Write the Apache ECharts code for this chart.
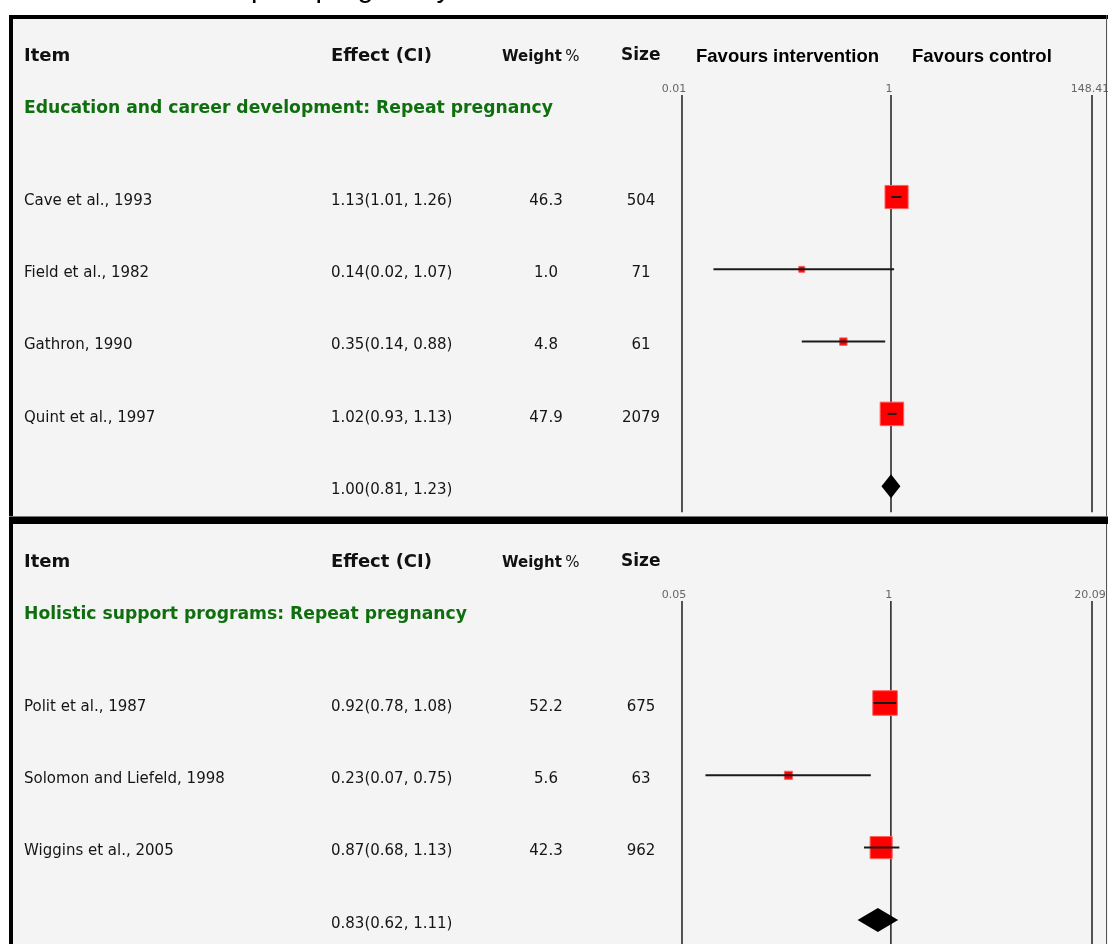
<!DOCTYPE html>
<html><head><meta charset="utf-8">
<script src="https://cdn.jsdelivr.net/npm/echarts@6/dist/echarts.min.js"></script>
<style>html,body{margin:0;padding:0;background:#fff}#c{width:1108px;height:944px}</style>
</head><body><div id="c"></div>
<script>
// ---------- data ----------
const pageTitle = "Repeat pregnancy";
const colHeaders = ["Item", "Effect (CI)", "Weight", "%", "Size"];
const favoursLabels = ["Favours intervention", "Favours control"];
const groupTitles = ["Education and career development: Repeat pregnancy", "Holistic support programs: Repeat pregnancy"];

const studiesA = ["Cave et al., 1993", "Field et al., 1982", "Gathron, 1990", "Quint et al., 1997"];
const estA = [1.13, 0.14, 0.35, 1.02];
const loA = [1.01, 0.02, 0.14, 0.93];
const hiA = [1.26, 1.07, 0.88, 1.13];
const weightA = [46.3, 1.0, 4.8, 47.9];
const sizeA = [504, 71, 61, 2079];
const pooledA = [1.00, 0.81, 1.23];
const tickLabelsA = ["0.01", "1", "148.41"];

const studiesB = ["Polit et al., 1987", "Solomon and Liefeld, 1998", "Wiggins et al., 2005"];
const estB = [0.92, 0.23, 0.87];
const loB = [0.78, 0.07, 0.68];
const hiB = [1.08, 0.75, 1.13];
const weightB = [52.2, 5.6, 42.3];
const sizeB = [675, 63, 962];
const pooledB = [0.83, 0.62, 1.11];
const tickLabelsB = ["0.05", "1", "20.09"];

// plotted log-axis extents (the original plot compresses its right half,
// so the right boundary line carries the label of its nominal maximum)
const axisRangeA = [0.01, 83.8];
const axisRangeB = [0.05, 17.9];

// ---------- layout ----------
const ROW = 72.3;
const FONT_ROW = '15px "DejaVu Sans"';
const COL = {item: 24, effect: 331, weight: 546, size: 641};
const TXT_DY = 4;
const fmtCI = (e, l, h) => e.toFixed(2) + "(" + l.toFixed(2) + ", " + h.toFixed(2) + ")";

function txt(x, y, s, font, fill, align) {
  return {type: 'text', x: x, y: y, silent: true,
    style: {text: s, font: font, fill: fill || '#111', align: align || 'left', verticalAlign: 'middle'}};
}

function makeStudySeries(g, names, est, lo, hi, w, sz) {
  return {
    type: 'custom', xAxisIndex: g, yAxisIndex: g, clip: false, z: 5,
    data: names.map((n, i) => [i, est[i], lo[i], hi[i], w[i], sz[i]]),
    renderItem: function (params, api) {
      const i = api.value(0);
      const c = api.coord([api.value(1), i]);
      const l = api.coord([api.value(2), i]);
      const h = api.coord([api.value(3), i]);
      const s = Math.max(6, 3.4 * Math.sqrt(api.value(4)));
      const y = c[1];
      const k = params.dataIndex;
      return {type: 'group', children: [
        {type: 'rect', shape: {x: c[0] - s / 2, y: y - s / 2, width: s, height: s},
          style: {fill: '#ff0000', stroke: '#ff6060', lineWidth: 1}},
        {type: 'line', shape: {x1: l[0], y1: y, x2: h[0], y2: y},
          style: {stroke: '#1a1a1a', lineWidth: 2}},
        txt(COL.item, y + TXT_DY, names[k], FONT_ROW, '#151515', 'left'),
        txt(COL.effect, y + TXT_DY, fmtCI(est[k], lo[k], hi[k]), FONT_ROW, '#151515', 'left'),
        txt(COL.weight, y + TXT_DY, w[k].toFixed(1), FONT_ROW, '#151515', 'center'),
        txt(COL.size, y + TXT_DY, String(sz[k]), FONT_ROW, '#151515', 'center')
      ]};
    }
  };
}

function makePooledSeries(g, row, pooled) {
  return {
    type: 'custom', xAxisIndex: g, yAxisIndex: g, clip: false, z: 5,
    data: [[row, pooled[0], pooled[1], pooled[2]]],
    renderItem: function (params, api) {
      const r = api.value(0);
      const c = api.coord([api.value(1), r]);
      const l = api.coord([api.value(2), r]);
      const h = api.coord([api.value(3), r]);
      const y = c[1];
      return {type: 'group', children: [
        {type: 'polygon', shape: {points: [[l[0], y], [c[0], y - 12], [h[0], y], [c[0], y + 12]]},
          style: {fill: '#000'}},
        txt(COL.effect, y + TXT_DY, fmtCI(pooled[0], pooled[1], pooled[2]), FONT_ROW, '#151515', 'left')
      ]};
    }
  };
}

function makeAxisLineSeries(g, range, labels) {
  const vals = [range[0], 1, range[1]];
  return {
    type: 'custom', xAxisIndex: g, yAxisIndex: g, clip: false, z: 3,
    data: vals.map((t, i) => [t, i]),
    renderItem: function (params, api) {
      const p1 = api.coord([api.value(0), -1.41]);
      const p2 = api.coord([api.value(0), 4.36]);
      const k = params.dataIndex;
      return {type: 'group', children: [
        {type: 'line', shape: {x1: p1[0], y1: p1[1], x2: p2[0], y2: p2[1]},
          style: {stroke: '#2a2a2a', lineWidth: 1.6}},
        txt(p1[0] + (k === 0 ? -8 : -2), p1[1] - 6, labels[k], '11px "DejaVu Sans"', '#666', 'center')
      ]};
    }
  };
}

function panelHeader(y0) {
  return [
    txt(24, y0, colHeaders[0], 'bold 18px "DejaVu Sans"', '#111'),
    txt(331, y0, colHeaders[1], 'bold 18px "DejaVu Sans"', '#111'),
    {type: 'text', x: 502, y: y0 + 1, silent: true,
      style: {text: '{b|' + colHeaders[2] + '} {r|' + colHeaders[3] + '}', verticalAlign: 'middle',
        rich: {b: {font: 'bold 15px "DejaVu Sans"', fill: '#111'}, r: {font: '15px "DejaVu Sans"', fill: '#111'}}}},
    txt(621, y0, colHeaders[4], 'bold 17px "DejaVu Sans"', '#111')
  ];
}

const topA = 197 - 2.5 * ROW, topB = 703 - 2.5 * ROW;
const yMaxB = (944 - topB) / ROW - 2.5;

const graphics = [
  {type: 'rect', shape: {x: 9, y: 15, width: 1099, height: 505}, style: {fill: '#f4f4f4'}, silent: true},
  {type: 'rect', shape: {x: 9, y: 522, width: 1099, height: 430}, style: {fill: '#f4f4f4'}, silent: true},
  {type: 'rect', shape: {x: 9, y: 15, width: 1099, height: 4}, style: {fill: '#000'}, silent: true, z: 10},
  {type: 'rect', shape: {x: 9, y: 15, width: 4, height: 940}, style: {fill: '#000'}, silent: true, z: 10},
  {type: 'rect', shape: {x: 1106, y: 15, width: 1, height: 940}, style: {fill: '#555'}, silent: true, z: 10},
  {type: 'rect', shape: {x: 9, y: 516, width: 1099, height: 1}, style: {fill: '#777'}, silent: true, z: 10},
  {type: 'rect', shape: {x: 9, y: 517, width: 1099, height: 7}, style: {fill: '#000'}, silent: true, z: 10},
  txt(214, -11, pageTitle, '29px "Liberation Sans"', '#000'),
  txt(696, 57, favoursLabels[0], 'bold 18.5px "Liberation Sans"', '#000'),
  txt(912, 57, favoursLabels[1], 'bold 18.5px "Liberation Sans"', '#000'),
  txt(24, 109, groupTitles[0], 'bold 17.2px "DejaVu Sans"', '#0f6f0f'),
  txt(24, 615, groupTitles[1], 'bold 17.2px "DejaVu Sans"', '#0f6f0f')
].concat(panelHeader(56), panelHeader(562));

const option = {
  animation: false,
  backgroundColor: '#ffffff',
  grid: [
    {left: 682, width: 410, top: topA, height: 7 * ROW},
    {left: 682, width: 410, top: topB, height: (yMaxB + 2.5) * ROW}
  ],
  xAxis: [
    {type: 'log', gridIndex: 0, min: axisRangeA[0], max: axisRangeA[1], show: false},
    {type: 'log', gridIndex: 1, min: axisRangeB[0], max: axisRangeB[1], show: false}
  ],
  yAxis: [
    {type: 'value', gridIndex: 0, inverse: true, min: -2.5, max: 4.5, show: false},
    {type: 'value', gridIndex: 1, inverse: true, min: -2.5, max: yMaxB, show: false}
  ],
  graphic: graphics,
  series: [
    makeAxisLineSeries(0, axisRangeA, tickLabelsA),
    makeAxisLineSeries(1, axisRangeB, tickLabelsB),
    makeStudySeries(0, studiesA, estA, loA, hiA, weightA, sizeA),
    makeStudySeries(1, studiesB, estB, loB, hiB, weightB, sizeB),
    makePooledSeries(0, studiesA.length, pooledA),
    makePooledSeries(1, studiesB.length, pooledB)
  ]
};

const chart = echarts.init(document.getElementById('c'), null, {renderer: 'canvas'});
chart.setOption(option);
</script>
</body></html>
